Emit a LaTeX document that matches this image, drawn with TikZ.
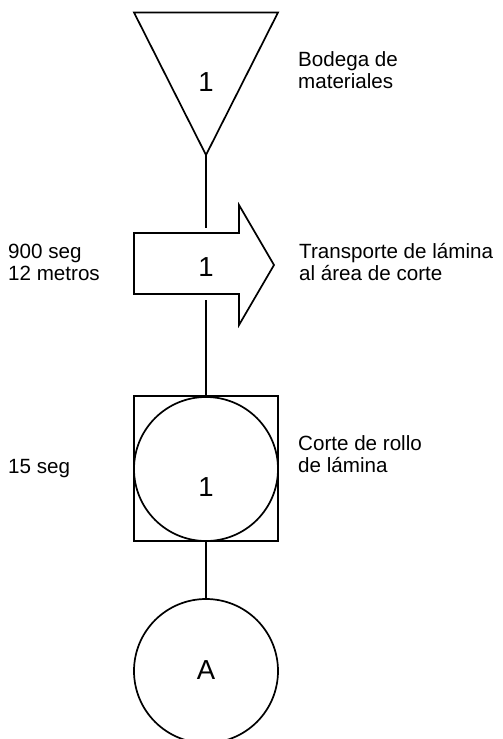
\documentclass[tikz,border=0pt]{standalone}
\usepackage{fontspec}
\setmainfont{Liberation Sans}
\begin{document}
\begin{tikzpicture}[x=1pt,y=-1pt,
  symbol/.style={draw=black,line width=1.7pt,fill=white,line join=miter},
  link/.style={draw=black,line width=1.7pt},
  num/.style={inner sep=0pt,font=\fontsize{27.5}{27.5}\selectfont},
  label/.style={inner sep=0pt,anchor=base west,align=left,font=\fontsize{20.6}{22}\selectfont}]
\useasboundingbox (0,0) rectangle (503,739);
\fill[white] (0,0) rectangle (503,739);

% connection points
\coordinate (apex) at (206,155);
\coordinate (arrtop) at (206,228);
\coordinate (arrbot) at (206,300);
\coordinate (sqtop) at (206,396);
\coordinate (sqbot) at (206,541);
\coordinate (ctop) at (206,599);

% storage (inverted triangle)
\path[symbol] (134,12.5) -- (278,12.5) -- (apex) -- cycle;
\node[num] (almacen) at (206,82) {1};

% transport (block arrow)
\path[symbol] (134,233) -- (239,233) -- (239,205) -- (274,265) -- (239,325)
  -- (239,294) -- (134,294) -- cycle;
\node[num] (transporte) at (206,267) {1};

% combined operation/inspection
\path[symbol] (134,396) rectangle (278,541);
\path[symbol] (206,469) circle (72);
\node[num] (corte) at (206,487) {1};

% connector
\path[symbol] (206,671) circle (72);
\node[num] (conector) at (206,670) {A};

% flow lines
\draw[link] (apex) -- (arrtop);
\draw[link] (arrbot) -- (sqtop);
\draw[link] (sqbot) -- (ctop);

% descriptions (base anchor sits on the last line)
\node[label] (t1) at (298,88) {Bodega de\\materiales};
\node[label] (t2) at (299,280) {Transporte de lámina\\al área de corte};
\node[label] (t3) at (298,472) {Corte de rollo\\de lámina};
\node[label] (d2) at (8,280) {900 seg\\12 metros};
\node[label] (d3) at (8,473) {15 seg};
\end{tikzpicture}
\end{document}
